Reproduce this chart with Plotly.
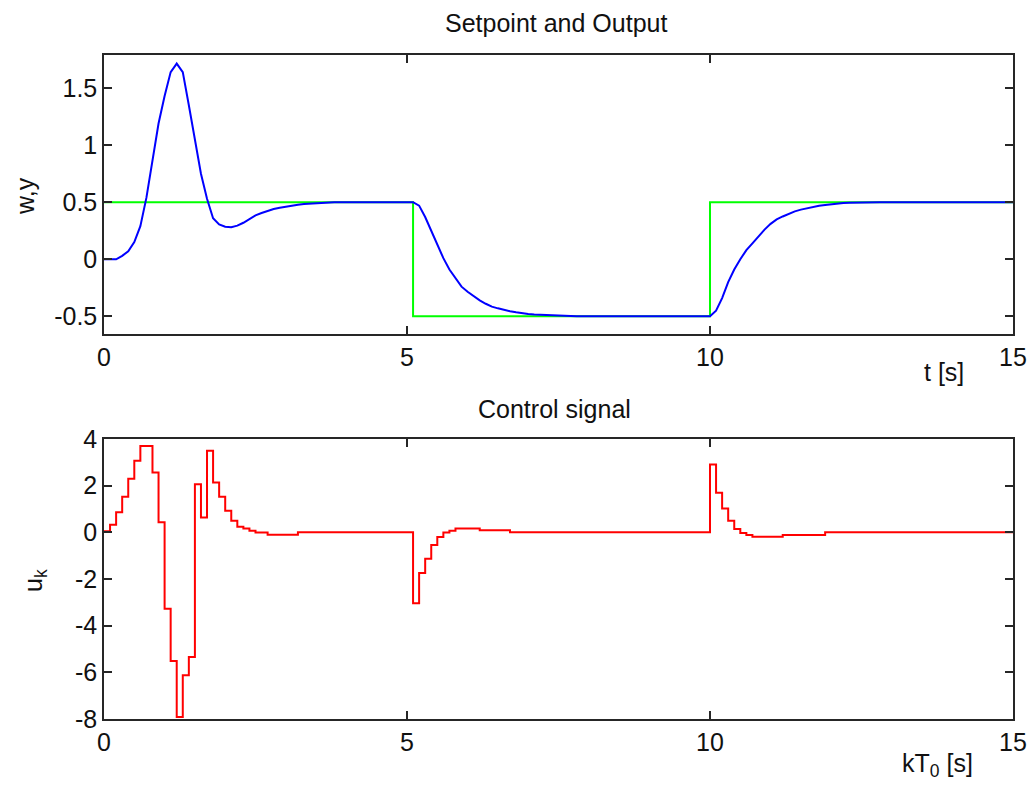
import plotly.graph_objects as go

# Sample period and time base (k = 0 .. 150, T0 = 0.1 s)
T0 = 0.1
k_idx = list(range(151))
t = [round(k * T0, 1) for k in k_idx]

# Setpoint w(k)
w = [0.5] * 51 + [-0.5] * 49 + [0.5] * 51

# Process output y(k)
y = [
    0.0, 0.0, 0.0, 0.03, 0.07, 0.15, 0.29, 0.54, 0.86, 1.19,
    1.43, 1.64, 1.715, 1.64, 1.35, 1.03, 0.75, 0.53, 0.36, 0.305,
    0.285, 0.28, 0.295, 0.32, 0.355, 0.385, 0.405, 0.425, 0.44, 0.452,
    0.462, 0.47, 0.478, 0.484, 0.488, 0.492, 0.495, 0.497, 0.499, 0.5,
    0.5, 0.5, 0.5, 0.5, 0.5, 0.5, 0.5, 0.5, 0.5, 0.5,
    0.5, 0.5, 0.47, 0.37, 0.25, 0.13, 0.01, -0.09, -0.17, -0.24,
    -0.285, -0.325, -0.36, -0.39, -0.415, -0.43, -0.445, -0.455, -0.465, -0.475,
    -0.48, -0.485, -0.488, -0.491, -0.494, -0.497, -0.5, -0.5, -0.5, -0.5,
    -0.5, -0.5, -0.5, -0.5, -0.5, -0.5, -0.5, -0.5, -0.5, -0.5,
    -0.5, -0.5, -0.5, -0.5, -0.5, -0.5, -0.5, -0.5, -0.5, -0.5,
    -0.5, -0.45, -0.34, -0.2, -0.09, 0.0, 0.08, 0.14, 0.2, 0.26,
    0.31, 0.35, 0.375, 0.4, 0.42, 0.435, 0.448, 0.46, 0.468, 0.475,
    0.482, 0.488, 0.493, 0.496, 0.498, 0.5, 0.5, 0.5, 0.5, 0.5,
    0.5, 0.5, 0.5, 0.5, 0.5, 0.5, 0.5, 0.5, 0.5, 0.5,
    0.5, 0.5, 0.5, 0.5, 0.5, 0.5, 0.5, 0.5, 0.5, 0.5,
    0.5,
]

# Control signal u(k), held over each sample period
u = [
    0.05, 0.33, 0.86, 1.53, 2.30, 3.07, 3.70, 3.70, 2.56, 0.43,
    -3.28, -5.51, -7.91, -6.13, -5.34, 2.06, 0.64, 3.50, 2.14, 1.53,
    0.93, 0.50, 0.24, 0.16, 0.07, -0.01, -0.01, -0.10, -0.10, -0.10,
    -0.10, -0.10, 0.0, 0.0, 0.0, 0.0, 0.0, 0.0, 0.0, 0.0,
    0.0, 0.0, 0.0, 0.0, 0.0, 0.0, 0.0, 0.0, 0.0, 0.0,
    0.0, -3.04, -1.74, -1.13, -0.54, -0.20, -0.01, 0.07, 0.16, 0.16,
    0.16, 0.16, 0.09, 0.09, 0.09, 0.09, 0.09, 0.0, 0.0, 0.0,
    0.0, 0.0, 0.0, 0.0, 0.0, 0.0, 0.0, 0.0, 0.0, 0.0,
    0.0, 0.0, 0.0, 0.0, 0.0, 0.0, 0.0, 0.0, 0.0, 0.0,
    0.0, 0.0, 0.0, 0.0, 0.0, 0.0, 0.0, 0.0, 0.0, 0.0,
    2.91, 1.70, 1.02, 0.50, 0.14, -0.03, -0.11, -0.19, -0.19, -0.19,
    -0.19, -0.19, -0.11, -0.11, -0.11, -0.11, -0.11, -0.11, -0.11, 0.0,
    0.0, 0.0, 0.0, 0.0, 0.0, 0.0, 0.0, 0.0, 0.0, 0.0,
    0.0, 0.0, 0.0, 0.0, 0.0, 0.0, 0.0, 0.0, 0.0, 0.0,
    0.0, 0.0, 0.0, 0.0, 0.0, 0.0, 0.0, 0.0, 0.0, 0.0,
    0.0,
]

x_ticks = [0, 5, 10, 15]
y1_ticks = [-0.5, 0, 0.5, 1, 1.5]
y1_labels = ["-0.5", "0", "0.5", "1", "1.5"]
y2_ticks = [-8, -6, -4, -2, 0, 2, 4]
y2_labels = ["-8", "-6", "-4", "-2", "0", "2", "4"]

FONT = "Liberation Sans"
AX = "#262626"

fig = go.Figure()
fig.add_trace(go.Scatter(x=t, y=w, mode="lines", line=dict(color="#00FF00", width=2, shape="hv"),
                         xaxis="x", yaxis="y", showlegend=False))
fig.add_trace(go.Scatter(x=t, y=y, mode="lines", line=dict(color="#0000FF", width=2),
                         xaxis="x", yaxis="y", showlegend=False))
fig.add_trace(go.Scatter(x=t, y=u, mode="lines", line=dict(color="#FF0000", width=2, shape="hv"),
                         xaxis="x2", yaxis="y2", showlegend=False))

axis_common = dict(showline=True, linecolor=AX, linewidth=1.5, mirror="ticks",
                   ticks="inside", ticklen=8, tickwidth=1.5, tickcolor=AX,
                   showgrid=False, zeroline=False, automargin=False,
                   tickfont=dict(family=FONT, size=25, color="#111"))

fig.update_layout(
    template="none",
    width=1031, height=787,
    margin=dict(l=104, r=18, t=55, b=68),
    paper_bgcolor="white", plot_bgcolor="white",
    xaxis=dict(domain=[0, 1], range=[0, 15], tickvals=x_ticks, anchor="y", **axis_common),
    yaxis=dict(domain=[0.5798, 1], range=[-0.655, 1.79], tickvals=y1_ticks, ticktext=y1_labels,
               anchor="x", **axis_common),
    xaxis2=dict(domain=[0, 1], range=[0, 15], tickvals=x_ticks, anchor="y2", **axis_common),
    yaxis2=dict(domain=[0, 0.4217], range=[-8, 4], tickvals=y2_ticks, ticktext=y2_labels,
                anchor="x2", **axis_common),
)

def label(text, x, y, angle=0):
    fig.add_annotation(text=text, x=x, y=y, xref="paper", yref="paper",
                       xanchor="center", yanchor="middle", showarrow=False, textangle=angle,
                       font=dict(family=FONT, size=25, color="#111"))

label("Setpoint and Output", 0.4973, 1.048)
label("Control signal", 0.496, 0.4669)
label("t [s]", 0.924, 0.5226)
label("kT<sub>0</sub> [s]", 0.9164, -0.0693)
label("w,y", -0.0869, 0.7877, -90)
label("u<sub>k</sub>", -0.0759, 0.2078, -90)

fig.write_html("out.html")
